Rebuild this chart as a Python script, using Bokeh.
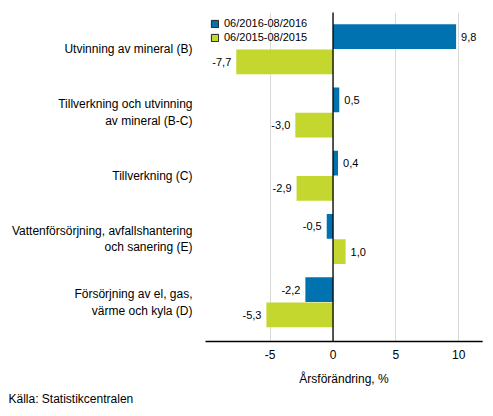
from bokeh.plotting import figure
from bokeh.models import ColumnDataSource, Range1d, FixedTicker, Legend, LegendItem, Title
from bokeh.core.properties import value
from bokeh.embed import file_html
from bokeh.resources import INLINE

categories = [
    "Utvinning av mineral (B)",
    "Tillverkning och utvinning\nav mineral (B-C)",
    "Tillverkning (C)",
    "Vattenförsörjning, avfallshantering\noch sanering (E)",
    "Försörjning av el, gas,\nvärme och kyla (D)",
]
series_names = ["06/2016-08/2016", "06/2015-08/2015"]
values_2016 = [9.8, 0.5, 0.4, -0.5, -2.2]
values_2015 = [-7.7, -3.0, -2.9, 1.0, -5.3]
colors = ["#0072b0", "#c3d72f"]
x_ticks = [-5, 0, 5, 10]
x_tick_labels = ["-5", "0", "5", "10"]

FONT = "Liberation Sans"

p = figure(width=485, height=407, output_backend="svg", toolbar_location=None,
           x_range=Range1d(-10.15, 11.9), y_range=Range1d(4.62, -0.58),
           min_border_left=205, min_border_right=3, min_border_top=12, min_border_bottom=0)
p.outline_line_color = None
p.background_fill_color = "white"

for vals, col, off in zip([values_2016, values_2015], colors, [-0.2, 0.2]):
    ys = [i + off for i in range(len(categories))]
    labels = [f"{v:.1f}".replace(".", ",") for v in vals]
    aligns = ["left" if v >= 0 else "right" for v in vals]
    offs = [5 if v >= 0 else -5 for v in vals]
    src = ColumnDataSource(dict(y=ys, v=vals, lab=labels, al=aligns, xo=offs))
    p.hbar(y="y", left=0, right="v", height=0.39, fill_color=col, line_color=None, source=src)
    p.text(x="v", y="y", text="lab", text_align="al", x_offset="xo", text_baseline="middle",
           text_font=value(FONT), text_font_size="11px", text_color="#000000", source=src)

# x=0 line
p.ray(x=[0], y=[4.62], length=0, angle=1.5707963, line_color="black", line_width=1.3)

# legend dummies (placed outside visible range)
leg_rs = []
for col in colors:
    leg_rs.append(p.hbar(y=[100], left=[100], right=[101], height=1, fill_color=col,
                         line_color="#222222", line_width=1))
legend = Legend(items=[LegendItem(label=n, renderers=[r]) for n, r in zip(series_names, leg_rs)],
                location="top_left", orientation="vertical", glyph_width=9, glyph_height=9,
                label_text_font=FONT, label_text_font_size="11px", label_text_color="#000000",
                label_standoff=5, spacing=2, padding=0, margin=5, border_line_color=None,
                background_fill_alpha=0, label_height=12)
p.add_layout(legend, "center")

p.xaxis.ticker = FixedTicker(ticks=x_ticks)
p.xaxis.major_label_overrides = {t: l for t, l in zip(x_ticks, x_tick_labels)}
p.xaxis.major_tick_line_color = None
p.xaxis.minor_tick_line_color = None
p.xaxis.axis_line_color = "black"
p.xaxis.axis_line_width = 1.3
p.xaxis.major_label_text_font = FONT
p.xaxis.major_label_text_font_size = "12px"
p.xaxis.major_label_text_color = "#000000"
p.xaxis.major_label_standoff = 2
p.xaxis.axis_label = "Årsförändring, %"
p.xaxis.axis_label_text_font = FONT
p.xaxis.axis_label_text_font_size = "12px"
p.xaxis.axis_label_text_font_style = "normal"
p.xaxis.axis_label_text_color = "#000000"
p.xaxis.axis_label_standoff = 10

p.yaxis.ticker = FixedTicker(ticks=list(range(len(categories))))
p.yaxis.major_label_overrides = {i: c for i, c in enumerate(categories)}
p.yaxis.major_tick_line_color = None
p.yaxis.minor_tick_line_color = None
p.yaxis.axis_line_color = None
p.yaxis.major_label_text_font = FONT
p.yaxis.major_label_text_font_size = "12px"
p.yaxis.major_label_text_color = "#000000"
p.yaxis.major_label_standoff = 7

p.xgrid.ticker = FixedTicker(ticks=x_ticks)
p.xgrid.grid_line_color = "#d9d9d9"
p.ygrid.grid_line_color = None

src_title = Title(text="Källa: Statistikcentralen", align="left", text_font=FONT,
                  text_font_size="12px", text_font_style="normal", text_color="#000000",
                  offset=-197, standoff=3)
p.add_layout(src_title, "below")

open("out.html", "w").write(file_html(p, INLINE))
